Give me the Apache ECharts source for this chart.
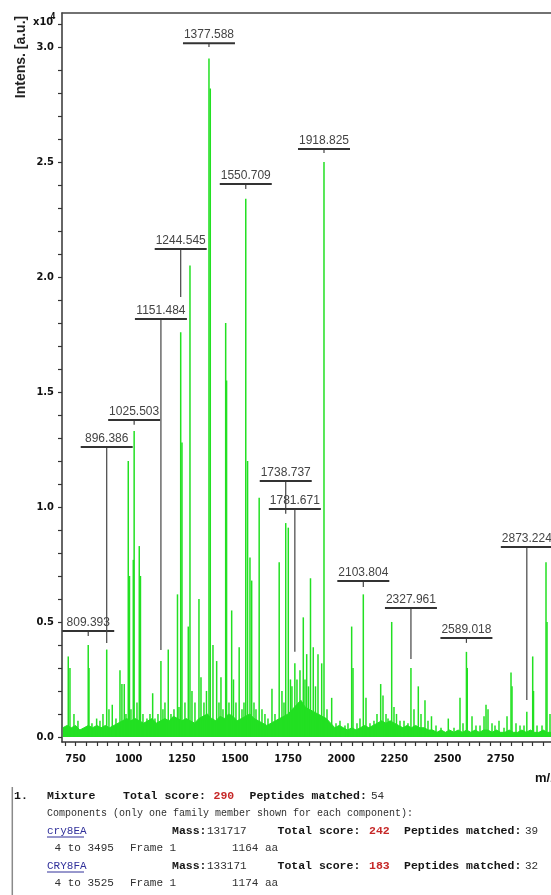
<!DOCTYPE html>
<html>
<head>
<meta charset="utf-8">
<title>MALDI-TOF spectrum</title>
<script src="https://cdn.jsdelivr.net/npm/echarts@6/dist/echarts.min.js"></script>
<style>
  html, body { margin: 0; padding: 0; background: #fff; }
  #chart { width: 551px; height: 895px; }
</style>
</head>
<body>
<div id="chart"></div>
<script>
// peaks: m/z and intensity (x10^4 a.u.)
var peakMz = [
  715.5, 723.5, 742.3, 761.1, 809.393, 813, 827, 849, 864.6, 878.8,
  896.386, 907, 922.6, 940, 958.8, 968, 979, 987, 997.8, 1003.5,
  1010.5, 1021.4, 1025.503, 1038.8, 1049.6, 1055.2, 1067, 1085.8, 1100, 1112.6,
  1123.5, 1137.6, 1151.484, 1161, 1170.5, 1186, 1198.8, 1212.9, 1229.4, 1236.4,
  1244.545, 1250.5, 1264.6, 1280.2, 1288.2, 1297.6, 1311.7, 1330.5, 1340, 1354,
  1365.8, 1377.588, 1383.7, 1396.4, 1413.8, 1424.6, 1434, 1443.5, 1456.2, 1460.4,
  1471.7, 1484.4, 1492.9, 1504.6, 1519.7, 1532.9, 1542.3, 1550.709, 1559.2, 1570.5,
  1578.5, 1589.4, 1598.8, 1613.8, 1627, 1641, 1655.3, 1674, 1688.2, 1708,
  1721, 1730.6, 1738.737, 1750.8, 1761, 1768, 1781.671, 1791.7, 1805.8, 1821.4,
  1829.4, 1837.4, 1845.8, 1855.3, 1868.4, 1878.8, 1890.6, 1908, 1918.825, 1932.9,
  1955, 1975.3, 1994, 2017.6, 2031.7, 2049, 2055.3, 2074, 2088.2, 2103.804,
  2116.4, 2135.3, 2154, 2168.2, 2185.6, 2196.4, 2210.6, 2220, 2237.4, 2248.2,
  2260, 2276.4, 2295.3, 2314, 2327.961, 2342.3, 2362.6, 2375.3, 2394, 2408.2,
  2424.6, 2445.9, 2469.4, 2503.7, 2530.6, 2558.8, 2572.9, 2589.018, 2593, 2615.3,
  2634, 2652.9, 2671.8, 2681.2, 2690.6, 2709.4, 2723.5, 2742.3, 2765.9, 2780,
  2798.8, 2803.5, 2822.3, 2841.2, 2860, 2873.224, 2900.9, 2904.7, 2921.2, 2944.7,
  2963.5, 2968.2, 2982.3
];
var peakInt = [
  0.35, 0.30, 0.10, 0.07, 0.40, 0.30, 0.06, 0.08, 0.07, 0.10,
  0.38, 0.12, 0.14, 0.08, 0.29, 0.23, 0.23, 0.10, 1.20, 0.70,
  0.12, 0.77, 1.33, 0.15, 0.83, 0.70, 0.10, 0.08, 0.10, 0.19,
  0.08, 0.10, 0.33, 0.12, 0.15, 0.38, 0.10, 0.12, 0.62, 0.13,
  1.76, 1.28, 0.15, 0.48, 2.05, 0.20, 0.15, 0.60, 0.26, 0.15,
  0.20, 2.95, 2.82, 0.40, 0.33, 0.15, 0.26, 0.12, 1.80, 1.55,
  0.15, 0.55, 0.25, 0.15, 0.39, 0.12, 0.15, 2.34, 1.20, 0.78,
  0.68, 0.15, 0.12, 1.04, 0.12, 0.10, 0.08, 0.21, 0.10, 0.76,
  0.20, 0.15, 0.93, 0.91, 0.25, 0.22, 0.32, 0.25, 0.29, 0.52,
  0.25, 0.36, 0.22, 0.69, 0.39, 0.22, 0.36, 0.32, 2.50, 0.12,
  0.17, 0.06, 0.07, 0.05, 0.06, 0.48, 0.30, 0.06, 0.08, 0.62,
  0.17, 0.06, 0.07, 0.10, 0.23, 0.18, 0.10, 0.08, 0.50, 0.13,
  0.10, 0.07, 0.07, 0.06, 0.30, 0.12, 0.22, 0.10, 0.16, 0.07,
  0.09, 0.05, 0.04, 0.08, 0.04, 0.17, 0.06, 0.37, 0.30, 0.09,
  0.05, 0.05, 0.09, 0.14, 0.12, 0.06, 0.05, 0.07, 0.04, 0.09,
  0.28, 0.22, 0.06, 0.05, 0.05, 0.11, 0.35, 0.20, 0.05, 0.05,
  0.76, 0.50, 0.10
];

// baseline noise band
var baseMz = [
  690, 710, 730, 750, 770, 790, 810, 830, 850, 870, 890, 910, 930, 950, 970, 990,
  1010, 1030, 1050, 1070, 1090, 1110, 1130, 1150, 1170, 1190, 1210, 1230, 1250, 1270, 1290,
  1310, 1330, 1350, 1370, 1390, 1410, 1430, 1450, 1470, 1490, 1510, 1530, 1550, 1570, 1590,
  1610, 1630, 1650, 1670, 1690, 1710, 1730, 1750, 1770, 1790, 1810, 1830, 1850, 1870, 1890,
  1910, 1930, 1950, 1970, 1990, 2010, 2030, 2050, 2070, 2090, 2110, 2130, 2150, 2170, 2190,
  2210, 2230, 2250, 2270, 2290, 2310, 2330, 2350, 2370, 2390, 2410, 2430, 2450, 2470, 2490,
  2510, 2530, 2550, 2570, 2590, 2610, 2630, 2650, 2670, 2690, 2710, 2730, 2750, 2770, 2790,
  2810, 2830, 2850, 2870, 2890, 2910, 2930, 2950, 2970, 2990
];
var baseInt = [
  0.04, 0.05, 0.04, 0.05, 0.03, 0.04, 0.05, 0.04, 0.05, 0.04, 0.05, 0.04, 0.05, 0.06, 0.07, 0.08,
  0.07, 0.08, 0.07, 0.06, 0.07, 0.08, 0.06, 0.07, 0.08, 0.07, 0.09, 0.08, 0.07, 0.08, 0.07,
  0.06, 0.08, 0.09, 0.10, 0.08, 0.07, 0.09, 0.08, 0.10, 0.09, 0.07, 0.08, 0.09, 0.10, 0.08,
  0.07, 0.06, 0.05, 0.06, 0.07, 0.08, 0.09, 0.10, 0.12, 0.14, 0.16, 0.13, 0.12, 0.11, 0.10,
  0.09, 0.08, 0.06, 0.04, 0.05, 0.04, 0.03, 0.04, 0.03, 0.04, 0.05, 0.04, 0.05, 0.06, 0.07,
  0.06, 0.07, 0.06, 0.05, 0.04, 0.05, 0.04, 0.05, 0.04, 0.04, 0.03, 0.03, 0.02, 0.03, 0.02,
  0.03, 0.02, 0.03, 0.02, 0.03, 0.02, 0.03, 0.02, 0.03, 0.03, 0.02, 0.03, 0.02, 0.02, 0.03,
  0.02, 0.02, 0.03, 0.02, 0.03, 0.02, 0.02, 0.03, 0.02, 0.02
];

// annotated peaks: label bar height and where the leader line stops
var labelMz    = [809.393, 896.386, 1025.503, 1151.484, 1244.545, 1377.588, 1550.709,
                  1738.737, 1781.671, 1918.825, 2103.804, 2327.961, 2589.018, 2873.224];
var labelLevel = [0.461, 1.261, 1.378, 1.817, 2.122, 3.017, 2.404,
                  1.113, 0.991, 2.557, 0.678, 0.561, 0.430, 0.826];
var labelEnd   = [0.439, 0.409, 1.357, 0.378, 1.913, 3.000, 2.383,
                  0.970, 0.370, 2.539, 0.652, 0.339, 0.409, 0.161];

var xTickLabels = ['750', '1000', '1250', '1500', '1750', '2000', '2250', '2500', '2750'];
var xMinorTicks = [700, 750, 800, 850, 900, 950, 1000, 1050, 1100, 1150, 1200, 1250, 1300,
  1350, 1400, 1450, 1500, 1550, 1600, 1650, 1700, 1750, 1800, 1850, 1900, 1950, 2000, 2050,
  2100, 2150, 2200, 2250, 2300, 2350, 2400, 2450, 2500, 2550, 2600, 2650, 2700, 2750, 2800,
  2850, 2900, 2950];
var yTickLabels = ['0.0', '0.5', '1.0', '1.5', '2.0', '2.5', '3.0'];
var yMinorTicks = [0, 0.1, 0.2, 0.3, 0.4, 0.5, 0.6, 0.7, 0.8, 0.9, 1.0, 1.1, 1.2, 1.3, 1.4, 1.5,
  1.6, 1.7, 1.8, 1.9, 2.0, 2.1, 2.2, 2.3, 2.4, 2.5, 2.6, 2.7, 2.8, 2.9, 3.0, 3.1];

var green = '#22e022';
var narrow = '"Liberation Sans Narrow", "DejaVu Sans Condensed", "Liberation Sans", sans-serif';
var mono = '"Liberation Mono", "DejaVu Sans Mono", monospace';

// text block under the spectrum
function txt(x, y, s, kind, size) {
  var weight = (kind == 'b' || kind == 'r') ? 'bold ' : '';
  var color = kind == 'r' ? '#c62828' : (kind == 'u' ? '#30309a' : (kind == 'b' ? '#151515' : '#303030'));
  return {
    type: 'text', x: x, y: y, silent: true,
    style: { text: s, font: weight + (size || 11) + 'px ' + mono, fill: color, align: 'left', verticalAlign: 'middle' }
  };
}
function hline(x1, x2, y, color, w) {
  return { type: 'line', silent: true, shape: { x1: x1, y1: y, x2: x2, y2: y }, style: { stroke: color, lineWidth: w } };
}

var tableEls = [
  { type: 'line', silent: true, shape: { x1: 12.3, y1: 787, x2: 12.3, y2: 895 }, style: { stroke: '#8a8a8a', lineWidth: 1.5 } },
  txt(14, 796, '1.', 'b', 11.5),
  txt(47, 796, 'Mixture', 'b', 11.5),
  txt(123, 796, 'Total score:', 'b', 11.5),
  txt(213.5, 796, '290', 'r', 11.5),
  txt(249.5, 796, 'Peptides matched:', 'b', 11.5),
  txt(371, 796, '54', 'n'),
  txt(47, 813, 'Components (only one family member shown for each component):', 'n', 10),
  txt(47, 831, 'cry8EA', 'u'),
  hline(47, 84, 837, '#30309a', 1),
  txt(172, 831, 'Mass:', 'b', 11.5),
  txt(207, 831, '131717', 'n'),
  txt(277.5, 831, 'Total score:', 'b', 11.5),
  txt(369, 831, '242', 'r', 11.5),
  txt(404, 831, 'Peptides matched:', 'b', 11.5),
  txt(525, 831, '39', 'n'),
  txt(54.5, 848.5, '4 to 3495', 'n'),
  txt(130, 848.5, 'Frame 1', 'n'),
  txt(232, 848.5, '1164 aa', 'n'),
  txt(47, 866, 'CRY8FA', 'u'),
  hline(47, 84, 872, '#30309a', 1),
  txt(172, 866, 'Mass:', 'b', 11.5),
  txt(207, 866, '133171', 'n'),
  txt(277.5, 866, 'Total score:', 'b', 11.5),
  txt(369, 866, '183', 'r', 11.5),
  txt(404, 866, 'Peptides matched:', 'b', 11.5),
  txt(525, 866, '32', 'n'),
  txt(54.5, 883.5, '4 to 3525', 'n'),
  txt(130, 883.5, 'Frame 1', 'n'),
  txt(232, 883.5, '1174 aa', 'n')
];

var chart = echarts.init(document.getElementById('chart'), null, { renderer: 'canvas' });

chart.setOption({
  animation: false,
  backgroundColor: '#fff',
  grid: { left: 62, top: 13, right: 0, bottom: 153, show: false },
  xAxis: [
    {
      type: 'value', min: 686, max: 2987,
      axisLine: { onZero: false, lineStyle: { color: '#333', width: 1.5 } },
      axisTick: { show: true, length: 4, customValues: xMinorTicks, lineStyle: { color: '#333', width: 1.2 } },
      axisLabel: {
        customValues: xTickLabels.map(Number),
        formatter: function (v) { return xTickLabels[xTickLabels.indexOf(String(v))] || String(v); },
        margin: 12, color: '#111', fontFamily: narrow, fontWeight: 'bold', fontSize: 11
      },
      splitLine: { show: false }
    },
    {
      // top frame line only
      type: 'value', position: 'top', min: 686, max: 2987,
      axisLine: { onZero: false, lineStyle: { color: '#444', width: 1.5 } },
      axisTick: { show: false }, axisLabel: { show: false }, splitLine: { show: false }
    }
  ],
  yAxis: {
    type: 'value', min: -0.022, max: 3.148,
    axisLine: { show: true, onZero: false, lineStyle: { color: '#333', width: 1.5 } },
    axisTick: { show: true, length: 4, customValues: yMinorTicks, lineStyle: { color: '#333', width: 1.2 } },
    axisLabel: {
      customValues: yTickLabels.map(Number),
      formatter: function (v) { return v.toFixed(1); },
      margin: 8, color: '#111', fontFamily: narrow, fontWeight: 'bold', fontSize: 11
    },
    splitLine: { show: false }
  },
  series: [
    {
      type: 'line',
      data: baseMz.map(function (m, i) { return [m, baseInt[i]]; }),
      symbol: 'none',
      lineStyle: { color: green, width: 1 },
      areaStyle: { color: green, opacity: 1 },
      silent: true,
      z: 2
    },
    {
      type: 'bar',
      data: peakMz.map(function (m, i) { return [m, peakInt[i]]; }),
      barWidth: 1.5,
      itemStyle: { color: green },
      silent: true,
      z: 3
    },
    {
      type: 'custom',
      clip: false,
      silent: true,
      z: 5,
      data: labelMz.map(function (m, i) { return [m, labelLevel[i], labelEnd[i]]; }),
      renderItem: function (params, api) {
        var p = api.coord([api.value(0), api.value(1)]);
        var e = api.coord([api.value(0), api.value(2)]);
        return {
          type: 'group',
          children: [
            { type: 'line', shape: { x1: p[0], y1: p[1], x2: e[0], y2: e[1] },
              style: { stroke: '#444', lineWidth: 1.2 } },
            { type: 'line', shape: { x1: p[0] - 26, y1: p[1], x2: p[0] + 26, y2: p[1] },
              style: { stroke: '#333', lineWidth: 2 } },
            { type: 'text', x: p[0], y: p[1] - 2,
              style: { text: api.value(0).toFixed(3), font: '12px "Liberation Sans", Arial, sans-serif',
                       fill: '#444', align: 'center', verticalAlign: 'bottom' } }
          ]
        };
      }
    }
  ],
  graphic: [
    { type: 'text', x: 21, y: 57, rotation: Math.PI / 2, silent: true,
      style: { text: 'Intens. [a.u.]', font: 'bold 14px "Liberation Sans", Arial, sans-serif',
               fill: '#222', align: 'center', verticalAlign: 'middle' } },
    { type: 'text', x: 33, y: 22, silent: true,
      style: { text: 'x10', font: 'bold 11px ' + narrow, fill: '#111', align: 'left', verticalAlign: 'middle' } },
    { type: 'text', x: 50.5, y: 17, silent: true,
      style: { text: '4', font: 'bold 8px ' + narrow, fill: '#111', align: 'left', verticalAlign: 'middle' } },
    { type: 'text', x: 535, y: 778, silent: true,
      style: { text: 'm/z', font: 'bold 13px "Liberation Sans", Arial, sans-serif', fill: '#111', align: 'left', verticalAlign: 'middle' } }
  ].concat(tableEls)
});
</script>
</body>
</html>
